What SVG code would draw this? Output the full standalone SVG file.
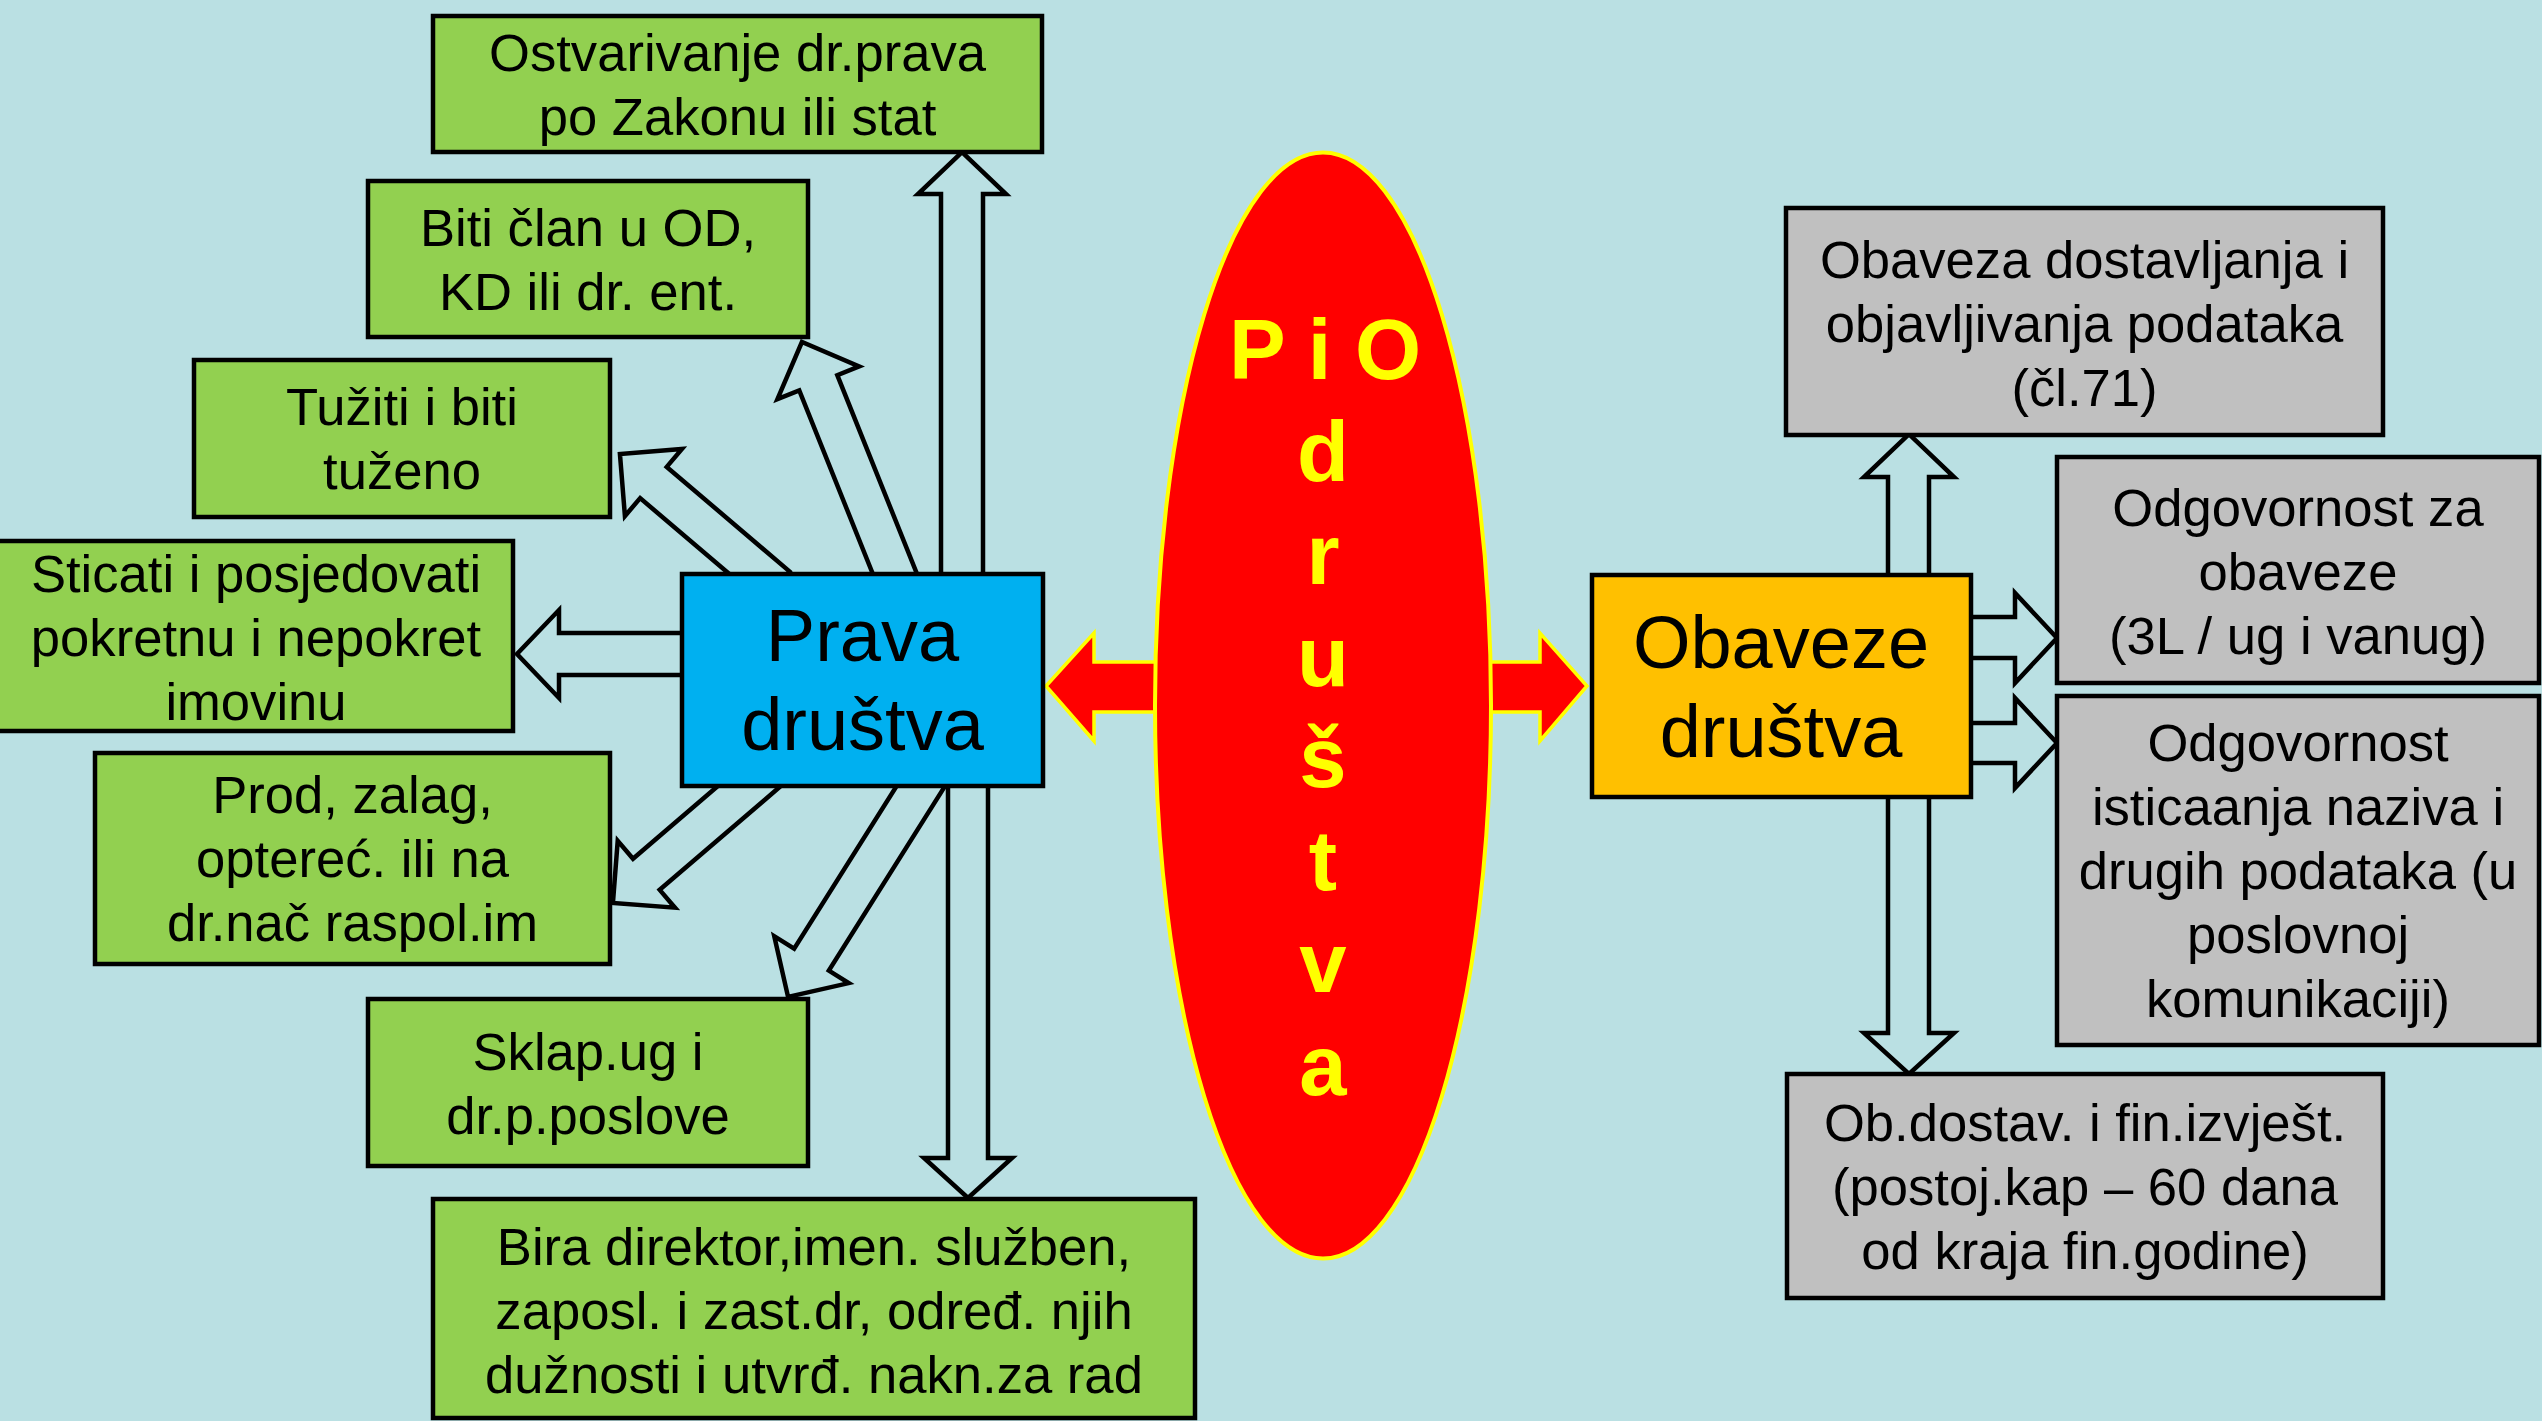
<svg xmlns="http://www.w3.org/2000/svg" width="2542" height="1421" viewBox="0 0 2542 1421">
<style>
.bx{stroke:#000;stroke-width:4.5}
.g{fill:#92D050}
.gr{fill:#C0C0C0}
.t{font-family:"Liberation Sans",Arial,sans-serif;font-size:52.6px;fill:#000;text-anchor:middle}
.tb{font-family:"Liberation Sans",Arial,sans-serif;font-size:74px;fill:#000;text-anchor:middle}
.ha{fill:#BAE0E3;stroke:#000;stroke-width:4.5;stroke-linejoin:miter}
.ra{fill:#FF0000;stroke:#FFFF00;stroke-width:3.5}
.pio{font-family:"Liberation Sans",Arial,sans-serif;font-weight:bold;font-size:85px;fill:#FFFF00;text-anchor:middle}
</style>
<rect width="2542" height="1421" fill="#BAE0E3"/>
<g id="connectors">
  <polygon class="ha" points="941,600 941,194 918,194 962,152 1006,194 983,194 983,600"/>
  <polygon class="ha" transform="translate(902.4,592.6) rotate(-111.85)" points="0,-20.5 226,-20.5 226,-44 270,0 226,44 226,20.5 0,20.5"/>
  <polygon class="ha" transform="translate(776.2,587) rotate(-139.6)" points="0,-20.5 161.2,-20.5 161.2,-44 205.2,0 161.2,44 161.2,20.5 0,20.5"/>
  <polygon class="ha" points="700,633 559,633 559,610 517,654 559,698 559,675 700,675"/>
  <polygon class="ha" transform="translate(765.7,772) rotate(139.4)" points="0,-20.5 157.2,-20.5 157.2,-44 201.2,0 157.2,44 157.2,20.5 0,20.5"/>
  <polygon class="ha" transform="translate(932.2,768) rotate(122.2)" points="0,-20.5 226.5,-20.5 226.5,-44 270.5,0 226.5,44 226.5,20.5 0,20.5"/>
  <polygon class="ha" points="948,760 948,1158 924,1158 968,1198 1012,1158 988,1158 988,760"/>
  <polygon class="ha" points="1888,600 1888,477 1864,477 1909,434 1954,477 1929,477 1929,600"/>
  <polygon class="ha" points="1950,617 2015,617 2015,593 2057,638 2015,683 2015,658 1950,658"/>
  <polygon class="ha" points="1950,723 2015,723 2015,698 2057,743 2015,788 2015,763 1950,763"/>
  <polygon class="ha" points="1888,780 1888,1033 1864,1033 1909,1074 1954,1033 1929,1033 1929,780"/>
  <polygon class="ra" points="1046,686 1094,633 1094,662 1170,662 1170,712 1094,712 1094,741"/>
  <polygon class="ra" points="1478,662 1540,662 1540,633 1587,686 1540,741 1540,712 1478,712"/>
</g>
<g id="pio">
  <ellipse cx="1323" cy="705.5" rx="168" ry="553" fill="#FF0000" stroke="#FFFF00" stroke-width="4"/>
  <text class="pio" x="1325" y="379">P i O</text>
  <text class="pio" x="1323" y="481">d</text>
  <text class="pio" x="1323" y="584">r</text>
  <text class="pio" x="1323" y="686">u</text>
  <text class="pio" x="1323" y="787">š</text>
  <text class="pio" x="1323" y="890">t</text>
  <text class="pio" x="1323" y="992">v</text>
  <text class="pio" x="1323" y="1095">a</text>
</g>
<g id="prava">
  <rect class="bx" x="682" y="574" width="361" height="212" fill="#00B0F0"/>
  <text class="tb" x="862.5" y="661">Prava</text>
  <text class="tb" x="862.5" y="750">društva</text>
</g>
<g id="obaveze">
  <rect class="bx" x="1592" y="575" width="379" height="222" fill="#FFC000"/>
  <text class="tb" x="1781" y="668">Obaveze</text>
  <text class="tb" x="1781" y="757">društva</text>
</g>
<g id="ostvarivanje">
  <rect class="bx g" x="433" y="16" width="609" height="136"/>
  <text class="t" x="737.5" y="71">Ostvarivanje dr.prava</text>
  <text class="t" x="737.5" y="135">po Zakonu ili stat</text>
</g>
<g id="biti">
  <rect class="bx g" x="368" y="181" width="440" height="156"/>
  <text class="t" x="588" y="246">Biti član u OD,</text>
  <text class="t" x="588" y="310">KD ili dr. ent.</text>
</g>
<g id="tuziti">
  <rect class="bx g" x="194" y="360" width="416" height="157"/>
  <text class="t" x="402" y="425">Tužiti i biti</text>
  <text class="t" x="402" y="489">tuženo</text>
</g>
<g id="sticati">
  <rect class="bx g" x="-3" y="541" width="516" height="190"/>
  <text class="t" x="256" y="592">Sticati i posjedovati</text>
  <text class="t" x="256" y="656">pokretnu i nepokret</text>
  <text class="t" x="256" y="720">imovinu</text>
</g>
<g id="prod">
  <rect class="bx g" x="95" y="753" width="515" height="211"/>
  <text class="t" x="352.5" y="813">Prod, zalag,</text>
  <text class="t" x="352.5" y="877">optereć. ili na</text>
  <text class="t" x="352.5" y="941">dr.nač raspol.im</text>
</g>
<g id="sklap">
  <rect class="bx g" x="368" y="999" width="440" height="167"/>
  <text class="t" x="588" y="1070">Sklap.ug i</text>
  <text class="t" x="588" y="1134">dr.p.poslove</text>
</g>
<g id="bira">
  <rect class="bx g" x="433" y="1199" width="762" height="219"/>
  <text class="t" x="814" y="1265">Bira direktor,imen. služben,</text>
  <text class="t" x="814" y="1329">zaposl. i zast.dr, određ. njih</text>
  <text class="t" x="814" y="1393">dužnosti i utvrđ. nakn.za rad</text>
</g>
<g id="obaveza-dostavljanja">
  <rect class="bx gr" x="1786" y="208" width="597" height="227"/>
  <text class="t" x="2084.5" y="278">Obaveza dostavljanja i</text>
  <text class="t" x="2084.5" y="342">objavljivanja podataka</text>
  <text class="t" x="2084.5" y="406">(čl.71)</text>
</g>
<g id="odgovornost-obaveze">
  <rect class="bx gr" x="2057" y="457" width="482" height="226"/>
  <text class="t" x="2298" y="526">Odgovornost za</text>
  <text class="t" x="2298" y="590">obaveze</text>
  <text class="t" x="2298" y="654">(3L / ug i vanug)</text>
</g>
<g id="odgovornost-isticanja">
  <rect class="bx gr" x="2057" y="696" width="482" height="349"/>
  <text class="t" x="2298" y="761">Odgovornost</text>
  <text class="t" x="2298" y="825">isticaanja naziva i</text>
  <text class="t" x="2298" y="889">drugih podataka (u</text>
  <text class="t" x="2298" y="953">poslovnoj</text>
  <text class="t" x="2298" y="1017">komunikaciji)</text>
</g>
<g id="ob-dostav">
  <rect class="bx gr" x="1787" y="1074" width="596" height="224"/>
  <text class="t" x="2085" y="1141">Ob.dostav. i fin.izvješt.</text>
  <text class="t" x="2085" y="1205">(postoj.kap – 60 dana</text>
  <text class="t" x="2085" y="1269">od kraja fin.godine)</text>
</g>
</svg>
